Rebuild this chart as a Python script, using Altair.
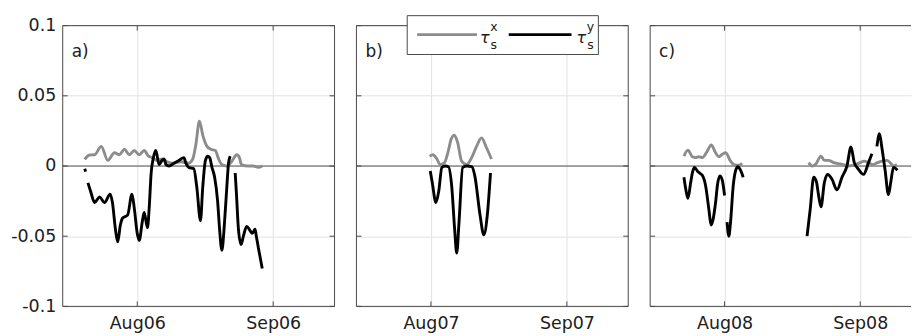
import altair as alt
import pandas as pd

# Surface stress components (N m^-2) for three summers.
# Days are counted from 1 August of each year; None marks a gap in the record.

A_TX_DAY = [-11.99, -10.86, -9.73, -8.21, -6.72, -5.20, -4.07, -2.94, -1.81, -0.68,
            0.45, 1.58, 2.56, 3.39, 4.53, 5.66, 6.79, 8.37, 9.96, 11.77, 12.67, 13.35,
            14.19, 14.94, 15.91, 16.75, 17.81, 18.56, 19.30, 20.37, 21.50, 22.70, 23.31,
            23.76, 25.35, 26.48, 27.61, 28.51]
A_TX_VAL = [0.0047, 0.0078, 0.008, 0.014, 0.004, 0.0094, 0.008, 0.012, 0.008, 0.011,
            0.008, 0.011, 0.007, 0.006, 0.004, 0.005, 0.003, 0.002, 0.003, 0.002, 0.005,
            0.015, 0.032, 0.022, 0.014, 0.012, 0.011, 0.005, 0.001, 0.0, 0.003, 0.008,
            0.006, 0.001, 0.0, 0.0, -0.001, 0.0]

A_TY_DAY = [-11.99, -11.77, None, -11.25, -10.64, -9.73, -8.60, -7.47, -6.18, -5.66,
            -4.98, -4.46, -3.85, -3.33, -2.20, -1.20, -0.68, 0.00, 0.45, 1.13, 1.58,
            2.33, 2.72, 3.17, 3.62, 4.23, 4.98, 5.66, 6.11, 6.56, 7.24, 8.37, 9.50,
            10.64, 11.09, 11.77, 12.90, 13.58, 14.42, 14.94, 15.55, 16.07, 16.52, 17.04,
            17.65, 18.33, 18.78, 19.30, 19.91, 20.43, 20.82, 21.20, None, 22.34, 22.63,
            23.08, 23.69, 24.21, 24.96, 25.73, 26.25, 26.86, 27.16, 27.61, 28.51]
A_TY_VAL = [-0.002, -0.004, None, -0.012, -0.018, -0.026, -0.022, -0.026, -0.020, -0.026,
            -0.045, -0.054, -0.042, -0.037, -0.035, -0.020, -0.030, -0.048, -0.053, -0.040,
            -0.033, -0.044, -0.030, -0.005, 0.005, 0.011, 0.001, 0.004, 0.005, 0.001, 0.0,
            0.002, 0.004, 0.006, 0.002, -0.001, -0.002, -0.015, -0.039, -0.015, 0.004,
            0.007, 0.006, -0.001, -0.008, -0.025, -0.045, -0.060, -0.040, -0.015, 0.002,
            0.007, None, -0.005, -0.020, -0.045, -0.056, -0.050, -0.043, -0.046, -0.048,
            -0.045, -0.050, -0.058, -0.073]

B_TX_DAY = [-0.3, 0.45, 1.36, 2.1, 3.0, 3.9, 4.6, 5.34, 6.06, 7.0, 8.15, 9.28, 10.4,
            11.54, 12.67, 13.8]
B_TX_VAL = [0.007, 0.008, 0.005, 0.001, 0.002, 0.010, 0.019, 0.022, 0.017, 0.0035,
            0.001, 0.006, 0.014, 0.020, 0.013, 0.005]

B_TY_DAY = [-0.16, 0.3, 1.13, 1.77, 2.49, 3.24, 3.98, 4.75, 5.4, 5.88, 6.4, 7.24, 8.15,
            9.28, 10.0, 11.2, 12.06, 12.85, 13.58]
B_TY_VAL = [-0.0035, -0.012, -0.026, -0.018, -0.001, 0.0, -0.0005, -0.015, -0.045,
            -0.062, -0.040, -0.001, 0.0, -0.0005, -0.007, -0.035, -0.049, -0.035, -0.005]

C_TX_DAY = [-9.28, -8.37, -7.36, -6.61, -5.86, -5.08, -3.94, -3.03, -2.05, -1.30, -0.52,
            0.23, 1.37, 2.12, 3.26, 4.03, None, 19.22, 19.99, 20.74, 22.04, 22.79, 23.77,
            24.91, 26.05, 27.19, 28.33, 29.86, 31.00, 31.91, 32.89, 33.85, 34.94, 35.95,
            37.09, 37.84, 38.59, 39.37]
C_TX_VAL = [0.007, 0.0113, 0.0066, 0.006, 0.0066, 0.006, 0.0106, 0.015, 0.0094, 0.0066,
            0.0083, 0.0094, 0.0035, 0.001, 0.0005, 0.002, None, 0.0024, 0.0, 0.001, 0.007,
            0.004, 0.004, 0.0024, 0.0017, 0.001, 0.0, 0.001, 0.0024, 0.0035, 0.0024, 0.001,
            0.0024, 0.0035, 0.004, 0.0024, 0.0, 0.001]

C_TY_DAY = [-9.28, -8.89, -8.37, -7.75, -7.29, -6.84, -6.22, -5.70, -5.08, -4.33, -3.58,
            -3.08, -2.62, -2.05, -1.60, -1.07, -0.52, 0.0, None, 0.57, 0.98, 1.37, 1.98,
            2.51, 3.03, 3.65, 4.26, None, 18.85, 19.60, 20.36, 20.97, 21.54, 22.04, 22.79,
            23.55, 24.55, 25.69, 26.83, 27.97, 28.88, 29.64, 30.61, 31.75, 32.89, 33.67,
            None, 34.81, 35.40, 35.95, 36.70, 37.45, 38.00, 38.59, 39.50]
C_TY_VAL = [-0.008, -0.016, -0.023, -0.012, -0.004, -0.001, -0.0035, -0.005, -0.0066,
            -0.014, -0.031, -0.042, -0.038, -0.026, -0.013, -0.007, -0.010, -0.021, None,
            -0.040, -0.050, -0.040, -0.014, -0.0035, -0.0005, -0.003, -0.008, None, -0.050,
            -0.030, -0.008, -0.011, -0.022, -0.029, -0.012, -0.006, -0.0095, -0.017, -0.008,
            0.0, 0.0135, 0.0024, -0.0024, -0.006, 0.0024, 0.0087, None, 0.014, 0.023, 0.013,
            -0.0035, -0.0205, -0.011, -0.001, -0.003]

PANEL_TAGS = ["a)", "b)", "c)"]
MONTH_LABELS = [["Aug06", "Sep06"], ["Aug07", "Sep07"], ["Aug08", "Sep08"]]
X_TICKS = [0, 31]
X_DOMAINS = [[-17, 45], [-17, 45], [-17, 42.6]]
Y_TICKS = [-0.1, -0.05, 0, 0.05, 0.1]
Y_LABELS = ["-0.1", "-0.05", "0", "0.05", "0.1"]
Y_DOMAIN = [-0.1, 0.1]

FONT = "DejaVu Sans"
TEXT = "#202020"
FRAME = "#4a4a4a"
GRID = "#e2e2e2"
ZERO = "#555555"
GREY_LINE = "#8c8c8c"
BLACK_LINE = "#000000"
LINE_W = 2.9
PX_PER_DAY = 273 / 62
PLOT_H = 282


def series_frame(days, vals, comp):
    rows, seg = [], 0
    for d, v in zip(days, vals):
        if d is None:
            seg += 1
            continue
        rows.append({"day": d, "tau": v, "comp": comp, "seg": f"{comp}{seg}"})
    return pd.DataFrame(rows)


def label_expr(values, labels):
    expr = "''"
    for v, lab in zip(values, labels):
        expr = f"abs(datum.value - ({v})) < 1e-6 ? '{lab}' : " + expr
    return expr


def panel(i, frames, legend=False):
    x0, x1 = X_DOMAINS[i]
    width = round((x1 - x0) * PX_PER_DAY)
    df = pd.concat(frames, ignore_index=True)
    one = pd.DataFrame({"k": [0]})

    # every layer shares the same field names, scales and axis definitions
    xaxis = alt.Axis(values=X_TICKS, labelExpr=label_expr(X_TICKS, MONTH_LABELS[i]),
                     grid=True, gridColor=GRID, gridWidth=1, ticks=False, tickSize=0,
                     domain=False, labelFont=FONT, labelFontSize=17.5, labelColor=TEXT,
                     labelPadding=8, title=None)
    yaxis = alt.Axis(values=Y_TICKS, labelExpr=label_expr(Y_TICKS, Y_LABELS),
                     labels=(i == 0), grid=True, gridColor=GRID, gridWidth=1,
                     ticks=False, tickSize=0, domain=False, labelFont=FONT,
                     labelFontSize=17.5, labelColor=TEXT, labelPadding=7, title=None)
    X = alt.X("day:Q", scale=alt.Scale(domain=[x0, x1], nice=False, zero=False), axis=xaxis)
    Y = alt.Y("tau:Q", scale=alt.Scale(domain=Y_DOMAIN, nice=False, zero=False), axis=yaxis)

    zero = alt.Chart(pd.DataFrame({"tau": [0.0]})).mark_rule(
        color=ZERO, strokeWidth=1.2).encode(y=Y)

    lines = alt.Chart(df).mark_line(strokeWidth=LINE_W, interpolate="monotone").encode(
        x=X,
        y=Y,
        color=alt.Color("comp:N", scale=alt.Scale(domain=["x", "y"],
                                                  range=[GREY_LINE, BLACK_LINE]),
                        legend=None),
        detail="seg:N",
    )

    # inward tick marks on all four sides
    yt = pd.DataFrame({"tau": Y_TICKS})
    xt = pd.DataFrame({"day": X_TICKS})
    tick_layers = [
        alt.Chart(yt).mark_rule(color=FRAME).encode(y=Y, x=alt.value(0), x2=alt.value(5)),
        alt.Chart(xt).mark_rule(color=FRAME).encode(
            x=X, y=alt.value(PLOT_H - 5), y2=alt.value(PLOT_H)),
        alt.Chart(xt).mark_rule(color=FRAME).encode(x=X, y=alt.value(0), y2=alt.value(5)),
    ]
    if i < 2:
        tick_layers.append(alt.Chart(yt).mark_rule(color=FRAME).encode(
            y=Y, x=alt.value(width - 5), x2=alt.value(width)))

    # box around the axes (open on the right of the last panel)
    box = [
        alt.Chart(one).mark_rule(color=FRAME, strokeWidth=1).encode(
            x=alt.value(0), x2=alt.value(width), y=alt.value(0)),
        alt.Chart(one).mark_rule(color=FRAME, strokeWidth=1).encode(
            x=alt.value(0), x2=alt.value(width), y=alt.value(PLOT_H)),
        alt.Chart(one).mark_rule(color=FRAME, strokeWidth=1).encode(
            x=alt.value(0), y=alt.value(0), y2=alt.value(PLOT_H)),
    ]
    if i < 2:
        box.append(alt.Chart(one).mark_rule(color=FRAME, strokeWidth=1).encode(
            x=alt.value(width), y=alt.value(0), y2=alt.value(PLOT_H)))

    tag = alt.Chart(one).mark_text(text=PANEL_TAGS[i], align="left", baseline="alphabetic",
                                   font=FONT, fontSize=17, color=TEXT).encode(
        x=alt.value(9), y=alt.value(32))

    layers = [zero, lines] + tick_layers + box + [tag]

    if legend:
        layers += [
            alt.Chart(one).mark_rect(fill="white", stroke=FRAME, strokeWidth=1).encode(
                x=alt.value(51), x2=alt.value(243), y=alt.value(-10), y2=alt.value(29)),
            alt.Chart(one).mark_rule(color=GREY_LINE, strokeWidth=LINE_W).encode(
                x=alt.value(61), x2=alt.value(121), y=alt.value(9)),
            alt.Chart(one).mark_rule(color=BLACK_LINE, strokeWidth=LINE_W).encode(
                x=alt.value(153), x2=alt.value(216), y=alt.value(9)),
        ]
        for tx, sup in [(124, "x"), (221, "y")]:
            layers += [
                alt.Chart(one).mark_text(text="τ", align="left", baseline="alphabetic",
                                         font=FONT, fontSize=16, fontStyle="italic",
                                         color=TEXT).encode(
                    x=alt.value(tx), y=alt.value(17)),
                alt.Chart(one).mark_text(text=sup, align="center", baseline="middle",
                                         font=FONT, fontSize=12.5, color=TEXT).encode(
                    x=alt.value(tx + 14), y=alt.value(1)),
                alt.Chart(one).mark_text(text="s", align="center", baseline="middle",
                                         font=FONT, fontSize=12.5, color=TEXT).encode(
                    x=alt.value(tx + 14), y=alt.value(19)),
            ]

    return alt.layer(*layers).properties(width=width, height=PLOT_H)


pa = panel(0, [series_frame(A_TX_DAY, A_TX_VAL, "x"), series_frame(A_TY_DAY, A_TY_VAL, "y")])
pb = panel(1, [series_frame(B_TX_DAY, B_TX_VAL, "x"), series_frame(B_TY_DAY, B_TY_VAL, "y")],
           legend=True)
pc = panel(2, [series_frame(C_TX_DAY, C_TX_VAL, "x"), series_frame(C_TY_DAY, C_TY_VAL, "y")])

chart = alt.hconcat(pa, pb, pc, spacing=20).properties(
    padding={"left": 10, "top": 14, "right": 0, "bottom": 0},
    background="white",
).configure_view(strokeWidth=0)

chart.save("out.html", embed_options={"renderer": "svg", "actions": False})
